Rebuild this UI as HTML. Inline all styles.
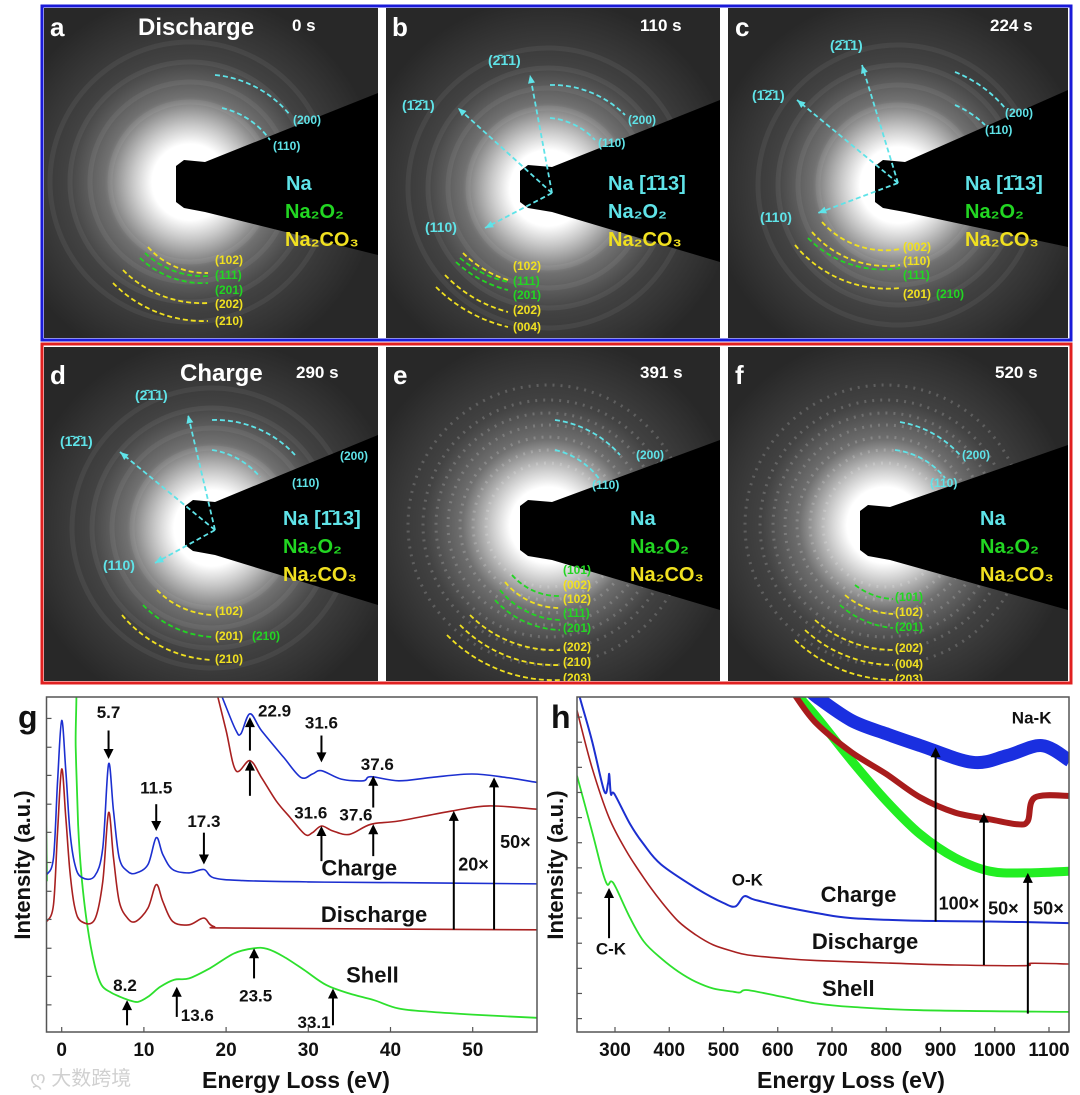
<!DOCTYPE html>
<html><head><meta charset="utf-8">
<style>
html,body{margin:0;padding:0;background:#fff;}
svg{display:block;font-family:"Liberation Sans","Noto Sans CJK SC",sans-serif;}
</style></head>
<body>
<svg id="fig" width="1080" height="1095" viewBox="0 0 1080 1095">
<defs>
<radialGradient id="glowA" gradientUnits="userSpaceOnUse" r="190" cx="0" cy="0">
<stop offset="0" stop-color="#ffffff"/><stop offset="0.2" stop-color="#ffffff"/><stop offset="0.3" stop-color="#c8c8c8"/><stop offset="0.45" stop-color="#707070"/><stop offset="0.65" stop-color="#424242"/><stop offset="1" stop-color="#282828"/>
</radialGradient>
</defs>
<rect x="42" y="6" width="1029" height="334" fill="none" stroke="#1a1ad8" stroke-width="3"/>
<rect x="42" y="344" width="1029" height="339" fill="none" stroke="#e02020" stroke-width="3"/>
<g id="panels"></g>
<g id="chartG"></g>
<g id="chartH"></g>
<text x="30" y="1085" font-size="20" fill="#d0d0d0">ღ 大数跨境</text>
</svg>
<script>
// ===== EELS low-loss data (panel g) =====
const gCharge = [[-1.8,47],[-1,52],[-0.5,75],[0,93],[0.5,78],[1,60],[1.6,50],[2.4,46.2],[4,46.5],[5,55],[5.7,80],[6.3,66],[7,52],[8,48],[9,47.4],[10.5,50],[11.5,58],[12.3,53],[13.5,48.5],[15.5,47.5],[17.3,48.5],[18.5,46],[22,45.2],[30,44.8],[40,44.6],[58,44.2]];
const gDischarge = [[-1.8,33],[-1,38],[-0.5,60],[0,78.5],[0.5,64],[1,48],[1.6,37],[2.4,33],[4,33.5],[5,45],[5.7,65.5],[6.3,52],[7,39],[8,34],[9,33],[10.5,37],[11.5,44],[12.3,39],[13.5,33],[15.5,32],[17.3,34],[18.5,31.5],[22,31],[58,30.5]];
const gShell = [[-1.8,45],[-1.75,110],[1.5,110],[1.7,85],[2.0,62],[2.4,47],[3.1,32],[4,20],[4.85,14],[6,11.8],[7.1,10.5],[8.2,9.5],[9.3,9],[10.5,10.5],[12,13.5],[13.7,15.6],[15.5,16],[18,19],[21,23.5],[23.4,25],[25,24.8],[27,22.5],[29.5,18.5],[32.2,14],[35,11.5],[38,9.5],[41,7],[45,6],[50,5.2],[58,4.2]];
const gCharge50 = [[19.2,102],[20,97],[21.2,90],[21.8,89],[22.9,95],[24.3,90],[27,82],[29.1,76],[30.5,77],[31.6,78],[34,75.5],[36.7,75],[37.6,76.2],[41,75],[45,76],[49.9,77],[54,76],[57.8,74.5]];
const gDischarge20 = [[18.8,102],[20,90],[21.2,78],[22.9,81],[24.3,76],[26.1,69],[27.8,64],[29.6,59],[30.5,59.5],[31.6,61.5],[33,60],[35,59],[37.6,62],[41,63],[47.5,66],[52,67.5],[57.8,66.5]];
const gXTicks = [0,10,20,30,40,50];
const gYTicks = [93.6,85,76.6,68,59.6,50.6,42,33.6,25,16.6,8.1];
const gLabels = [["5.7",5.7,95],["11.5",11.5,72.5],["17.3",17.3,62.5],["22.9",25.9,95.5],["31.6",31.6,92],["37.6",38.4,79.5],["31.6",30.3,65],["37.6",35.8,64.5],["8.2",7.7,13.6],["13.6",16.5,4.6],["23.5",23.6,10.5],["33.1",30.7,2.5]];
const gArrows = [[5.7,90,81.5],[11.5,68,60],[17.3,59.5,50],[22.9,84,94],[22.9,70.5,81],[31.6,88.5,80.5],[37.9,67,76.5],[31.6,51,61.5],[37.9,52.5,62],[47.7,30.6,66],[52.6,30.6,76],[7.95,2,9.5],[14,4.5,13.5],[23.4,16,25],[33,2,13]];
const gNames = [["Charge",36.2,48.5,22],["Discharge",38,34.6,22],["Shell",37.8,16.5,22],["20×",50.1,49.6,18],["50×",55.2,56.4,18]];

// ===== EELS core-loss data (panel h) =====
const hCharge = [[230,104],[235,100],[257.5,87],[280,72],[287,74],[289.4,77],[292.5,71],[299,71],[328,62],[353,56],[385,50],[449,43],[500,38.5],[522,37.5],[538,40.5],[557,39.5],[608,37.5],[672,35.5],[736,34],[863,33.2],[991,33],[1138,32.5]];
const hDischarge = [[230,96],[257.5,79],[289,64],[321,54],[353,46],[385,39],[417,33],[449,29],[481,26],[519,24],[545,23],[608,22],[672,21.3],[800,20.6],[927,20],[1055,19.8],[1067,20.5],[1138,20.3]];
const hShell = [[230,76.5],[257.5,60],[276.6,48],[286,44],[293,45],[302,43],[328,34],[353,27],[385,22],[417,18],[449,15],[481,13],[519,12],[530,11.8],[545,12.5],[608,10.5],[672,8.5],[736,7.5],[863,6.5],[1138,6]];
const hCharge100 = [[660,102],[672,100],[736,93],[800,89],[863,85.5],[959,80.5],[1023,82.5],[1087,85.5],[1138,81]];
const hDischarge50 = [[628,102],[634,100],[672,92],[736,83.5],[800,77],[863,70],[927,65.5],[991,63.5],[1042,62],[1061,63],[1074,70],[1138,70.5]];
const hShell50 = [[634,102],[640,100],[672,94],[736,81],[800,69],[863,59],[927,52],[991,48],[1055,47.5],[1138,48]];
const hXTicks = [300,400,500,600,700,800,900,1000,1100];
const hYTicks = [94,86.5,79,71.5,64,56.5,49,41.5,34,26.5,19,11.5,4];
const hLabels = [["Na-K",1068,93.5,17],["O-K",544,45,17],["C-K",292.5,24.5,17],["Charge",749,40.5,22],["Discharge",761,26.5,22],["Shell",730,12.5,22],["100×",934,38,18],["50×",1016,36.5,18],["50×",1099,36.5,18]];
const hArrows = [[289,28,43],[891,33,85],[980,20,65.5],[1061,5.5,47.5]];

const NS = "http://www.w3.org/2000/svg";
function mk(tag, attrs, parent){ const e=document.createElementNS(NS,tag); for(const k in attrs) e.setAttribute(k,attrs[k]); parent.appendChild(e); return e; }

const PT=697, PB=1032;
const yv = v => PB - v*3.35;
const xg = v => 61.7 + v*8.22;
const xh = v => 615 + (v-300)*0.5425;

function smoothPath(P){
  let d = 'M'+P[0][0].toFixed(1)+' '+P[0][1].toFixed(1);
  for(let i=0;i<P.length-1;i++){
    const p0=P[Math.max(0,i-1)], p1=P[i], p2=P[i+1], p3=P[Math.min(P.length-1,i+2)];
    const c1=[p1[0]+(p2[0]-p0[0])/6, p1[1]+(p2[1]-p0[1])/6];
    const c2=[p2[0]-(p3[0]-p1[0])/6, p2[1]-(p3[1]-p1[1])/6];
    d += ` C${c1[0].toFixed(1)} ${c1[1].toFixed(1)} ${c2[0].toFixed(1)} ${c2[1].toFixed(1)} ${p2[0].toFixed(1)} ${p2[1].toFixed(1)}`;
  }
  return d;
}

function drawChart(root, L, R, xf, series, xticks, yticks, clipId){
  const cp = mk('clipPath',{id:clipId},root);
  mk('rect',{x:L,y:PT,width:R-L,height:PB-PT},cp);
  const plot = mk('g',{'clip-path':'url(#'+clipId+')'},root);
  for(const s of series){
    const pts = s.pts.map(p=>[xf(p[0]), yv(p[1])]);
    const path = mk('path',{d:smoothPath(pts),fill:'none',stroke:s.color,'stroke-width':s.w,'stroke-linejoin':'round'},plot);
    
    
  }
  const frame = mk('rect',{x:L,y:PT,width:R-L,height:PB-PT,fill:'none',stroke:'#555','stroke-width':1.5},root);
  
  
  for(const t of xticks){
    const x=xf(t);
    const tk = mk('line',{x1:x,x2:x,y1:PB,y2:PB-5,stroke:'#555','stroke-width':1.2},root);
    
    
    const lb = mk('text',{x:x,y:PB+24,'text-anchor':'middle','font-size':19,'font-weight':'bold',fill:'#111'},root);
    lb.textContent = t;
    
    
  }
  for(const t of yticks){
    const tk = mk('line',{x1:L,x2:L+5,y1:yv(t),y2:yv(t),stroke:'#555','stroke-width':1.2},root);
    
    
  }
  return plot;
}
function arrow(root, x, y1, y2){
  const g = mk('g',{},root);
  const dir = y2>y1?1:-1;
  const pY1=yv(y1), pY2=yv(y2);
  mk('line',{x1:x,x2:x,y1:pY1,y2:pY2+dir*8,stroke:'#000','stroke-width':2},g);
  mk('path',{d:`M${x-5} ${pY2+dir*10} L${x} ${pY2} L${x+5} ${pY2+dir*10} Z`,fill:'#000'},g);
  return g;
}
function label(root, txt, x, y, fs){
  const t = mk('text',{x:x,y:y,'text-anchor':'middle','font-size':fs,'font-weight':'bold',fill:'#111','dominant-baseline':'middle'},root);
  t.textContent = txt;
  return t;
}

// ---- chart g ----
const G = document.getElementById('chartG');


drawChart(G, 46.5, 537, xg, [
  {pts:gShell,color:'#2de02d',w:1.8,name:'shell-line'},
  {pts:gDischarge,color:'#a82020',w:1.6,name:'discharge-line'},
  {pts:gCharge,color:'#1c2fd0',w:1.6,name:'charge-line'},
  {pts:gDischarge20,color:'#a82020',w:1.6,name:'discharge-20x-line'},
  {pts:gCharge50,color:'#1c2fd0',w:1.6,name:'charge-50x-line'}
], gXTicks, gYTicks, 'clipg');
for(const a of gArrows){
  const el = arrow(G, xg(a[0]), a[1], a[2]);
  
  
}
for(const l of gLabels){
  const el = label(G, l[0], xg(l[1]), yv(l[2]), 17);
  
  
}
for(const l of gNames){
  const el = label(G, l[0], xg(l[1]), yv(l[2]), l[3]);
  
  
}
const gl = mk('text',{x:18,y:728,'font-size':32,'font-weight':'bold',fill:'#111'},G);
gl.textContent='g';


const gyl = mk('text',{x:0,y:0,transform:'translate(30 865) rotate(-90)','text-anchor':'middle','font-size':22,'font-weight':'bold',fill:'#111'},G);
gyl.textContent='Intensity (a.u.)';


const gxl = mk('text',{x:296,y:1088,'text-anchor':'middle','font-size':23,'font-weight':'bold',fill:'#111'},G);
gxl.textContent='Energy Loss (eV)';



// ---- chart h ----
const H = document.getElementById('chartH');


drawChart(H, 577, 1069, xh, [
  {pts:hShell50,color:'#22ee22',w:9,name:'shell-50x-line'},
  {pts:hDischarge50,color:'#a81c1c',w:6,name:'discharge-50x-line'},
  {pts:hCharge100,color:'#1a2fe0',w:13,name:'charge-100x-line'},
  {pts:hShell,color:'#2de02d',w:1.8,name:'shell-line'},
  {pts:hDischarge,color:'#a82020',w:1.6,name:'discharge-line'},
  {pts:hCharge,color:'#1c2fd0',w:2,name:'charge-line'}
], hXTicks, hYTicks, 'cliph');
for(const a of hArrows){
  const el = arrow(H, xh(a[0]), a[1], a[2]);
  
  
}
for(const l of hLabels){
  const el = label(H, l[0], xh(l[1]), yv(l[2]), l[3]);
  
  
}
const hl = mk('text',{x:551,y:728,'font-size':32,'font-weight':'bold',fill:'#111'},H);
hl.textContent='h';


const hyl = mk('text',{x:0,y:0,transform:'translate(563 865) rotate(-90)','text-anchor':'middle','font-size':22,'font-weight':'bold',fill:'#111'},H);
hyl.textContent='Intensity (a.u.)';


const hxl = mk('text',{x:851,y:1088,'text-anchor':'middle','font-size':23,'font-weight':'bold',fill:'#111'},H);
hxl.textContent='Energy Loss (eV)';



// ===== diffraction panels =====
const C='#5fe3e8', GR='#22d622', Y='#f0e020';
const panels = [
 {id:'a',x:44,y:8,w:334,h:330,cx:190,cy:182,blob:[176,160,205,212],rt:93,rb:255,bright:0,
  t:[['a',50,36,26,'#fff'],['Discharge',138,35,24,'#fff'],['0 s',292,31,17,'#fff'],['Na',286,190,20,C],['Na₂O₂',285,218,20,GR],['Na₂CO₃',285,246,20,Y],
     ['(200)',293,124,12,C],['(110)',273,150,12,C],['(102)',215,264,12,Y],['(111)',215,279,12,GR],['(201)',215,294,12,GR],['(202)',215,308,12,Y],['(210)',215,325,12,Y]],
  arcs:[[215,75,290,115,C],[222,108,270,140,C],[148,247,208,273,Y],[145,253,208,276,GR],[140,258,208,283,GR],[123,270,208,303,Y],[113,283,208,321,Y]],arr:[]},
 {id:'b',x:386,y:8,w:334,h:330,cx:548,cy:188,blob:[520,165,552,212],rt:100,rb:262,bright:0,
  t:[['b',392,36,26,'#fff'],['110 s',640,31,17,'#fff'],['(2̄1̄1)',488,65,14,C],['(1̄2̄1)',402,110,14,C],['(110)',425,232,14,C],['Na [1̄13]',608,190,20,C],['Na₂O₂',608,218,20,C],['Na₂CO₃',608,246,20,Y],
     ['(200)',628,124,12,C],['(110)',598,147,12,C],['(102)',513,270,12,Y],['(111)',513,285,12,GR],['(201)',513,299,12,GR],['(202)',513,314,12,Y],['(004)',513,331,12,Y]],
  arcs:[[550,85,625,115,C],[550,118,595,140,C],[463,253,508,280,Y],[460,258,508,282,GR],[456,262,508,290,GR],[445,275,508,312,Y],[436,287,508,327,Y]],
  arr:[[552,193,530,75],[552,193,458,108],[552,193,485,228]]},
 {id:'c',x:728,y:8,w:340,h:330,cx:898,cy:185,blob:[875,160,905,212],rt:90,rb:247,bright:0,
  t:[['c',735,36,26,'#fff'],['224 s',990,31,17,'#fff'],['(2̄1̄1)',830,50,14,C],['(1̄2̄1)',752,100,14,C],['(110)',760,222,14,C],['Na [1̄13]',965,190,20,C],['Na₂O₂',965,218,20,GR],['Na₂CO₃',965,246,20,Y],
     ['(200)',1005,117,12,C],['(110)',985,134,12,C],['(002)',903,251,12,Y],['(110)',903,265,12,Y],['(111)',903,279,12,GR],['(201)',903,298,12,Y],['(210)',936,298,12,GR]],
  arcs:[[955,72,1005,108,C],[955,105,985,125,C],[822,222,900,249,Y],[812,232,900,265,Y],[808,238,900,268,GR],[795,245,900,288,Y]],
  arr:[[898,183,862,65],[898,183,797,100],[898,183,818,213]]},
 {id:'d',x:44,y:347,w:334,h:334,cx:212,cy:528,blob:[185,500,215,555],rt:435,rb:605,bright:0,
  t:[['d',50,384,26,'#fff'],['Charge',180,381,24,'#fff'],['290 s',296,378,17,'#fff'],['(2̄1̄1)',135,400,14,C],['(1̄2̄1)',60,446,14,C],['(110)',103,570,14,C],['Na [1̄13]',283,525,20,C],['Na₂O₂',283,553,20,GR],['Na₂CO₃',283,581,20,Y],
     ['(200)',340,460,12,C],['(110)',292,487,12,C],['(102)',215,615,12,Y],['(201)',215,640,12,Y],['(210)',252,640,12,GR],['(210)',215,663,12,Y]],
  arcs:[[212,420,295,455,C],[212,450,260,477,C],[157,590,212,615,Y],[143,605,212,637,GR],[122,615,212,660,Y]],
  arr:[[215,530,188,415],[215,530,120,452],[215,530,155,563]]},
 {id:'e',x:386,y:347,w:334,h:334,cx:548,cy:525,blob:[520,500,552,560],rt:440,rb:610,bright:1,
  t:[['e',393,384,26,'#fff'],['391 s',640,378,17,'#fff'],['Na',630,525,20,C],['Na₂O₂',630,553,20,GR],['Na₂CO₃',630,581,20,Y],
     ['(200)',636,459,12,C],['(110)',592,489,12,C],['(101)',563,574,12,GR],['(002)',563,589,12,Y],['(102)',563,603,12,Y],['(111)',563,617,12,GR],['(201)',563,632,12,GR],['(202)',563,651,12,Y],['(210)',563,666,12,Y],['(203)',563,682,12,Y]],
  arcs:[[555,420,620,455,C],[555,450,600,480,C],[512,575,560,596,GR],[505,582,560,608,Y],[500,590,560,620,GR],[495,600,560,630,GR],[470,615,560,650,Y],[460,625,560,665,Y],[447,635,560,680,Y]],arr:[]},
 {id:'f',x:728,y:347,w:340,h:334,cx:885,cy:525,blob:[860,505,890,560],rt:445,rb:610,bright:1,
  t:[['f',735,384,26,'#fff'],['520 s',995,378,17,'#fff'],['Na',980,525,20,C],['Na₂O₂',980,553,20,GR],['Na₂CO₃',980,581,20,Y],
     ['(200)',962,459,12,C],['(110)',930,487,12,C],['(101)',895,601,12,GR],['(102)',895,616,12,Y],['(201)',895,631,12,GR],['(202)',895,652,12,Y],['(004)',895,668,12,Y],['(203)',895,683,12,Y]],
  arcs:[[900,422,960,455,C],[895,450,945,478,C],[855,585,893,599,GR],[845,595,893,614,Y],[840,605,893,628,GR],[815,620,893,650,Y],[805,630,893,665,Y],[795,640,893,680,Y]],arr:[]}
];
const P = document.getElementById('panels');
for(const p of panels){
  const g = mk('g',{},P);
  
  
  const cid='clip'+p.id;
  const cp = mk('clipPath',{id:cid},g);
  mk('rect',{x:p.x,y:p.y,width:p.w,height:p.h},cp);
  const inner = mk('g',{'clip-path':'url(#'+cid+')'},g);
  mk('rect',{x:p.x,y:p.y,width:p.w,height:p.h,fill:'#282828'},inner);
  const bg = mk('circle',{cx:0,cy:0,r:190,fill:'url(#glowA)',transform:`translate(${p.cx} ${p.cy})`},inner);
  
  
  const rings = p.bright ? [62,75,88,100,112,125,140] : [80,100,120,140];
  for(const r of rings){
    mk('circle',{cx:p.cx,cy:p.cy,r:r,fill:'none',stroke:'#fff','stroke-opacity':p.bright?0.18:0.06,'stroke-width':p.bright?3:5,'stroke-dasharray':p.bright?'2 6':'none'},inner);
  }
  const b=p.blob, R=p.x+p.w;
  const wedge = mk('path',{d:`M${b[0]} ${b[1]+6} L${b[0]+8} ${b[1]} L${b[2]} ${b[1]+2} L${R} ${p.rt} L${R} ${p.rb} L${b[2]} ${b[3]} L${b[0]+8} ${b[3]-4} L${b[0]} ${b[3]-10} Z`,fill:'#000'},inner);
  
  
  for(const a of p.arcs){
    const r = Math.hypot(a[0]-p.cx,a[1]-p.cy);
    const arc = mk('path',{d:`M${a[0]} ${a[1]} A${r.toFixed(1)} ${r.toFixed(1)} 0 0 ${a[0]<a[2]&&a[1]<p.cy?1:0} ${a[2]} ${a[3]}`,fill:'none',stroke:a[4],'stroke-width':1.8,'stroke-dasharray':'5 3'},inner);
    
    
  }
  for(const a of p.arr){
    const ag = mk('g',{},inner);
    
    
    mk('line',{x1:a[0],y1:a[1],x2:a[2],y2:a[3],stroke:C,'stroke-width':1.8,'stroke-dasharray':'5 3'},ag);
    const ang=Math.atan2(a[3]-a[1],a[2]-a[0]);
    const p1=[a[2]-9*Math.cos(ang-0.4),a[3]-9*Math.sin(ang-0.4)], p2=[a[2]-9*Math.cos(ang+0.4),a[3]-9*Math.sin(ang+0.4)];
    mk('path',{d:`M${a[2]} ${a[3]} L${p1[0]} ${p1[1]} L${p2[0]} ${p2[1]} Z`,fill:C},ag);
  }
  for(const t of p.t){
    const tx = mk('text',{x:t[1],y:t[2],'font-size':t[3],'font-weight':'bold',fill:t[4]},inner);
    tx.textContent = t[0];
    
    
  }
}
</script>
</body></html>
